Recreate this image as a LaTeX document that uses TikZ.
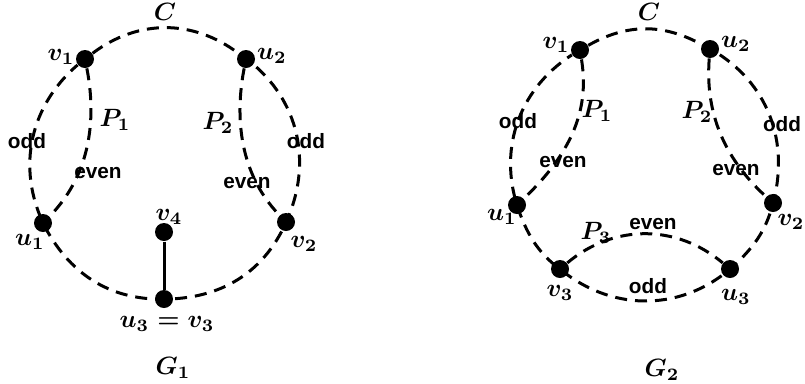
\documentclass[tikz,border=0pt]{standalone}
\usepackage{fontspec}
\newfontfamily\pathfont{Liberation Sans}
\tikzset{
  vtx/.style={circle,fill=black,inner sep=0pt,minimum size=7.2pt},
  cyc/.style={line width=1.2pt,dash pattern=on 4.8pt off 3.2pt},
  par/.style={font=\pathfont\bfseries\fontsize{8.3}{9}\selectfont,inner sep=0pt}
}

\begin{document}
\begin{tikzpicture}[x=0.4pt,y=-0.4pt,font=\boldmath]
\useasboundingbox (0,0) rectangle (805,383);
% G_1
\node[vtx] (av1) at (85,59) {};
\node[vtx] (au2) at (246,59) {};
\node[vtx] (av2) at (286,222) {};
\node[vtx] (aw) at (164,299) {};
\node[vtx] (au1) at (43,223) {};
\node[vtx] (av4) at (164,232) {};
\draw[cyc] (av1) to[bend left=37] (au2) to[bend left=39] (av2) to[bend left=33] (aw)
  to[bend left=32] (au1) to[bend left=39] (av1);
\draw[cyc] (av1) .. controls (95,110) and (95,170) .. (au1);
\draw[cyc] (au2) .. controls (236,110) and (236,170) .. (av2);
\draw[line width=1.2pt] (av4) -- (aw);
\node (aC) at (165,12) {$C$};
\node (lav1) at (61,57) {$v_1$};
\node (lau2) at (272,56) {$u_2$};
\node (lav2) at (304,244) {$v_2$};
\node (lau1) at (30,242) {$u_1$};
\node (lav4) at (169,217) {$v_4$};
\node (law) at (167,324) {$u_3=v_3$};
\node (aP1) at (115,120) {$P_1$};
\node (aP2) at (218,123) {$P_2$};
\node[par] (aodd1) at (27,141) {odd};
\node[par] (aodd2) at (306,141) {odd};
\node[par] (aeven1) at (98,173) {even};
\node[par] (aeven2) at (247,183) {even};
\node (aG) at (173,368) {$G_1$};
% G_2
\node[vtx] (bv1) at (580,50) {};
\node[vtx] (bu2) at (710,49) {};
\node[vtx] (bv2) at (773,203) {};
\node[vtx] (bu3) at (730,269) {};
\node[vtx] (bv3) at (560,269) {};
\node[vtx] (bu1) at (517,205) {};
\draw[cyc] (bv1) to[bend left=29] (bu2) to[bend left=38] (bv2) to[bend left=17] (bu3)
  to[bend left=40] (bv3) to[bend left=17] (bu1) to[bend left=39] (bv1);
\draw[cyc] (bv1) .. controls (588,100) and (580,145) .. (bu1);
\draw[cyc] (bu2) .. controls (706,100) and (715,150) .. (bv2);
\draw[cyc] (bv3) to[bend left=40] (bu3);
\node (bC) at (649,12) {$C$};
\node (lbv1) at (556,45) {$v_1$};
\node (lbu2) at (736,44) {$u_2$};
\node (lbv2) at (791,222) {$v_2$};
\node (lbu1) at (502,217) {$u_1$};
\node (lbv3) at (560,293) {$v_3$};
\node (lbu3) at (736,297) {$u_3$};
\node (bP1) at (597,111) {$P_1$};
\node (bP2) at (697,112) {$P_2$};
\node (bP3) at (596,233) {$P_3$};
\node[par] (bodd1) at (518,121) {odd};
\node[par] (bodd2) at (782,124) {odd};
\node[par] (bodd3) at (648,286) {odd};
\node[par] (beven1) at (563,162) {even};
\node[par] (beven2) at (736,170) {even};
\node[par] (beven3) at (653,224) {even};
\node (bG) at (662,370) {$G_2$};
\end{tikzpicture}
\end{document}
